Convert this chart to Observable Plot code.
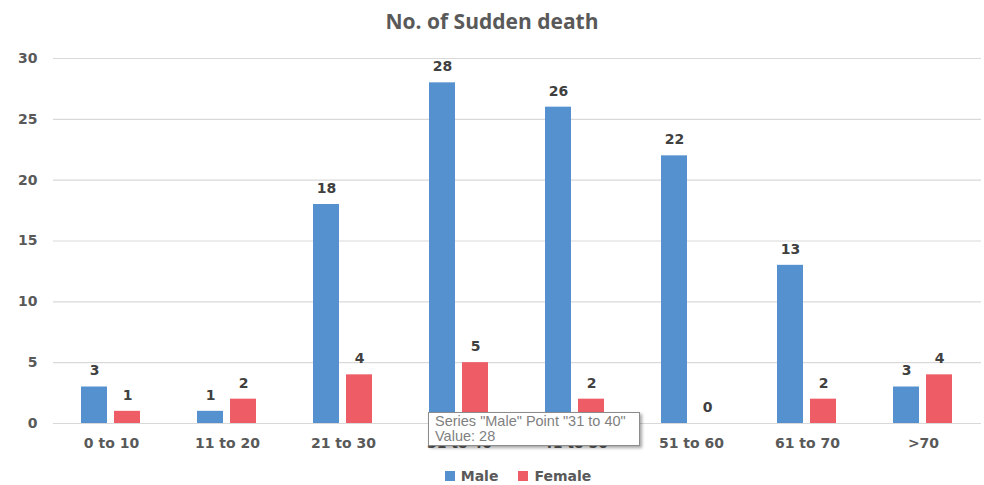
<!DOCTYPE html>
<html>
<head>
<meta charset="utf-8">
<script src="https://cdn.jsdelivr.net/npm/d3@7"></script>
<script src="https://cdn.jsdelivr.net/npm/@observablehq/plot@0.6"></script>
<style>
  html, body { margin: 0; padding: 0; background: #fff; }
  #wrap { position: relative; width: 984px; height: 485px; overflow: hidden; }
  #title { position: absolute; top: 7px; left: 0; width: 984px; text-align: center;
    font-family: "Open Sans", sans-serif; font-weight: 700; font-size: 21px; color: #595959; }
  #chart { position: absolute; top: 40px; left: 0; }
  #legend { position: absolute; top: 468px; left: 26px; width: 984px; text-align: center;
    font-family: "DejaVu Sans", sans-serif; font-weight: 700; font-size: 14px; color: #595959; }
  #legend span.sw { display: inline-block; width: 10px; height: 10px; margin-right: 6px; vertical-align: 0px; }
  #legend span.item { margin: 0 10px; }
  #tip { position: absolute; left: 428px; top: 412px; width: 212px; height: 34px; box-sizing: border-box;
    background: #fff; border: 1px solid #8c8c8c; box-shadow: 2px 2px 3px rgba(0,0,0,0.35);
    font-family: "Liberation Sans", sans-serif; font-size: 14.5px; color: #7f7f7f; line-height: 15px; padding: 1px 6px; white-space: nowrap; }
</style>
</head>
<body>
<div id="wrap">
  <div id="title"></div>
  <div id="chart"></div>
  <div id="tip"></div>
  <div id="legend"></div>
</div>
<script>
const title = "No. of Sudden death";
const categories = ["0 to 10", "11 to 20", "21 to 30", "31 to 40", "41 to 50", "51 to 60", "61 to 70", ">70"];
const seriesNames = ["Male", "Female"];
const male = [3, 1, 18, 28, 26, 22, 13, 3];
const female = [1, 2, 4, 5, 2, 0, 2, 4];
const yTicks = [0, 5, 10, 15, 20, 25, 30];
const colors = ["#5591cf", "#ee5c66"];

const data = [];
categories.forEach((c, i) => {
  data.push({cat: c, series: seriesNames[0], value: male[i]});
  data.push({cat: c, series: seriesNames[1], value: female[i]});
});

document.getElementById("title").textContent = title;

const chart = Plot.plot({
  width: 984,
  height: 420,
  marginTop: 18,
  marginBottom: 37,
  marginLeft: 50,
  marginRight: 0,
  style: {fontFamily: "DejaVu Sans, sans-serif", fontWeight: "bold", fontSize: "14px", color: "#595959", background: "transparent"},
  fx: {domain: categories, paddingInner: 0, paddingOuter: 0, label: null, axis: "bottom", tickSize: 0, tickPadding: 15},
  x: {domain: seriesNames, axis: null, paddingInner: 0.21, paddingOuter: 0.86},
  y: {domain: [0, 30], ticks: yTicks, label: null, tickSize: 0, tickPadding: 16},
  color: {domain: seriesNames, range: colors},
  marks: [
    Plot.ruleY(yTicks, {stroke: "#d9d9d9", strokeWidth: 1.2}),
    Plot.barY(data, {fx: "cat", x: "series", y: "value", fill: "series"}),
    Plot.text(data, {fx: "cat", x: "series", y: "value", text: d => String(d.value), dy: -16, fill: "#404040", fontSize: 14, fontWeight: "bold"})
  ]
});
document.getElementById("chart").appendChild(chart);

const i = categories.indexOf("31 to 40");
document.getElementById("tip").innerHTML =
  `Series "${seriesNames[0]}" Point "${categories[i]}"<br>Value: ${male[i]}`;

const leg = document.getElementById("legend");
seriesNames.forEach((s, k) => {
  const item = document.createElement("span");
  item.className = "item";
  item.innerHTML = `<span class="sw" style="background:${colors[k]}"></span>${s}`;
  leg.appendChild(item);
});
</script>
</body>
</html>
